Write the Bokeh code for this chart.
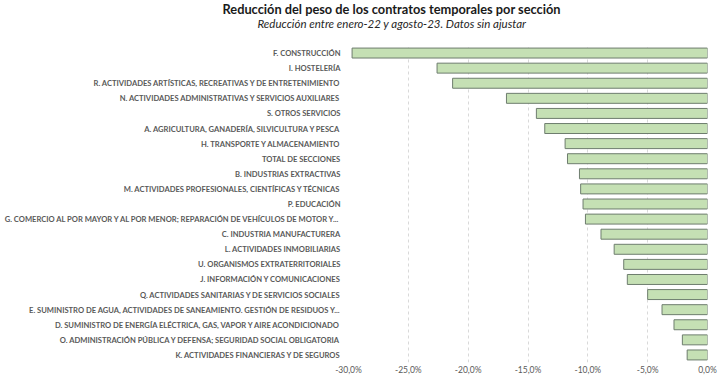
from bokeh.plotting import figure
from bokeh.models import ColumnDataSource, FactorRange, FixedTicker, Title, Range1d
from bokeh.embed import file_html
from bokeh.resources import INLINE

title_text = "Reducción del peso de los contratos temporales por sección"
subtitle_text = "Reducción entre enero-22 y agosto-23. Datos sin ajustar"

categories = [
    "F. CONSTRUCCIÓN",
    "I. HOSTELERÍA",
    "R. ACTIVIDADES ARTÍSTICAS, RECREATIVAS Y DE ENTRETENIMIENTO",
    "N. ACTIVIDADES ADMINISTRATIVAS Y SERVICIOS AUXILIARES",
    "S. OTROS SERVICIOS",
    "A. AGRICULTURA, GANADERÍA, SILVICULTURA Y PESCA",
    "H. TRANSPORTE Y ALMACENAMIENTO",
    "TOTAL DE SECCIONES",
    "B. INDUSTRIAS EXTRACTIVAS",
    "M. ACTIVIDADES PROFESIONALES, CIENTÍFICAS Y TÉCNICAS",
    "P. EDUCACIÓN",
    "G. COMERCIO AL POR MAYOR Y AL POR MENOR; REPARACIÓN DE VEHÍCULOS DE MOTOR Y...",
    "C. INDUSTRIA MANUFACTURERA",
    "L. ACTIVIDADES INMOBILIARIAS",
    "U. ORGANISMOS EXTRATERRITORIALES",
    "J. INFORMACIÓN Y COMUNICACIONES",
    "Q. ACTIVIDADES SANITARIAS Y DE SERVICIOS SOCIALES",
    "E. SUMINISTRO DE AGUA, ACTIVIDADES DE SANEAMIENTO. GESTIÓN DE RESIDUOS Y...",
    "D. SUMINISTRO DE ENERGÍA ELÉCTRICA, GAS, VAPOR Y AIRE ACONDICIONADO",
    "O. ADMINISTRACIÓN PÚBLICA Y DEFENSA; SEGURIDAD SOCIAL OBLIGATORIA",
    "K. ACTIVIDADES FINANCIERAS Y DE SEGUROS",
]
values = [-29.7, -22.6, -21.3, -16.8, -14.3, -13.6, -11.9, -11.7, -10.7, -10.6,
          -10.4, -10.2, -8.9, -7.8, -7.0, -6.7, -5.0, -3.8, -2.8, -2.1, -1.7]

tick_values = [-30, -25, -20, -15, -10, -5, 0]
tick_labels = ["-30,0%", "-25,0%", "-20,0%", "-15,0%", "-10,0%", "-5,0%", "0,0%"]

source = ColumnDataSource(data=dict(cat=categories, val=values, zero=[0] * len(values)))

p = figure(
    width=720, height=377,
    y_range=FactorRange(*list(reversed(categories)), range_padding=0),
    x_range=Range1d(-30, 0),
    output_backend="svg", toolbar_location=None,
    min_border_left=348, min_border_right=13, min_border_top=20, min_border_bottom=14,
)
p.outline_line_color = None
p.background_fill_color = "white"
p.border_fill_color = "white"

p.hbar(y="cat", left="val", right="zero", height=0.66, source=source,
       fill_color="#c5e0b4", line_color="#6e7d6e", line_width=1)

# x axis
p.xaxis.ticker = FixedTicker(ticks=tick_values)
p.xaxis.major_label_overrides = {v: l for v, l in zip(tick_values, tick_labels)}
p.xaxis.axis_line_color = None
p.xaxis.major_tick_line_color = None
p.xaxis.minor_tick_line_color = None
p.xaxis.major_tick_out = 0
p.xaxis.major_tick_in = 0
p.xaxis.minor_tick_out = 0
p.xaxis.major_label_standoff = 2
p.xaxis.major_label_text_font = "Lato"
p.xaxis.major_label_text_font_size = "8.5px"
p.xaxis.major_label_text_color = "#595959"

# y axis
p.yaxis.axis_line_color = None
p.yaxis.major_tick_line_color = None
p.yaxis.minor_tick_line_color = None
p.yaxis.major_tick_out = 0
p.yaxis.major_tick_in = 0
p.yaxis.minor_tick_out = 0
p.yaxis.major_label_standoff = 8
p.yaxis.major_label_text_font = "Lato"
p.yaxis.major_label_text_font_style = "bold"
p.yaxis.major_label_text_font_size = "7.6px"
p.yaxis.major_label_text_color = "#595959"

p.ygrid.grid_line_color = None
p.xgrid.ticker = FixedTicker(ticks=tick_values)
p.xgrid.grid_line_color = "#d9d9d9"
p.xgrid.grid_line_dash = "3 3"

# spacer between plot and subtitle, then subtitle, then main title
p.add_layout(Title(text=" ", align="left", standoff=1, text_font="Lato",
                   text_font_size="11.5px"), "above")
p.add_layout(Title(text=subtitle_text, align="left", offset=-91, standoff=0,
                   text_font="Lato", text_font_style="italic", text_font_size="11.5px",
                   text_color="#262626"), "above")
p.add_layout(Title(text=title_text, align="left", offset=-126, standoff=-4,
                   text_font="Lato", text_font_style="bold", text_font_size="12.8px",
                   text_color="#1a1a1a"), "above")

open("out.html", "w").write(file_html(p, INLINE))
